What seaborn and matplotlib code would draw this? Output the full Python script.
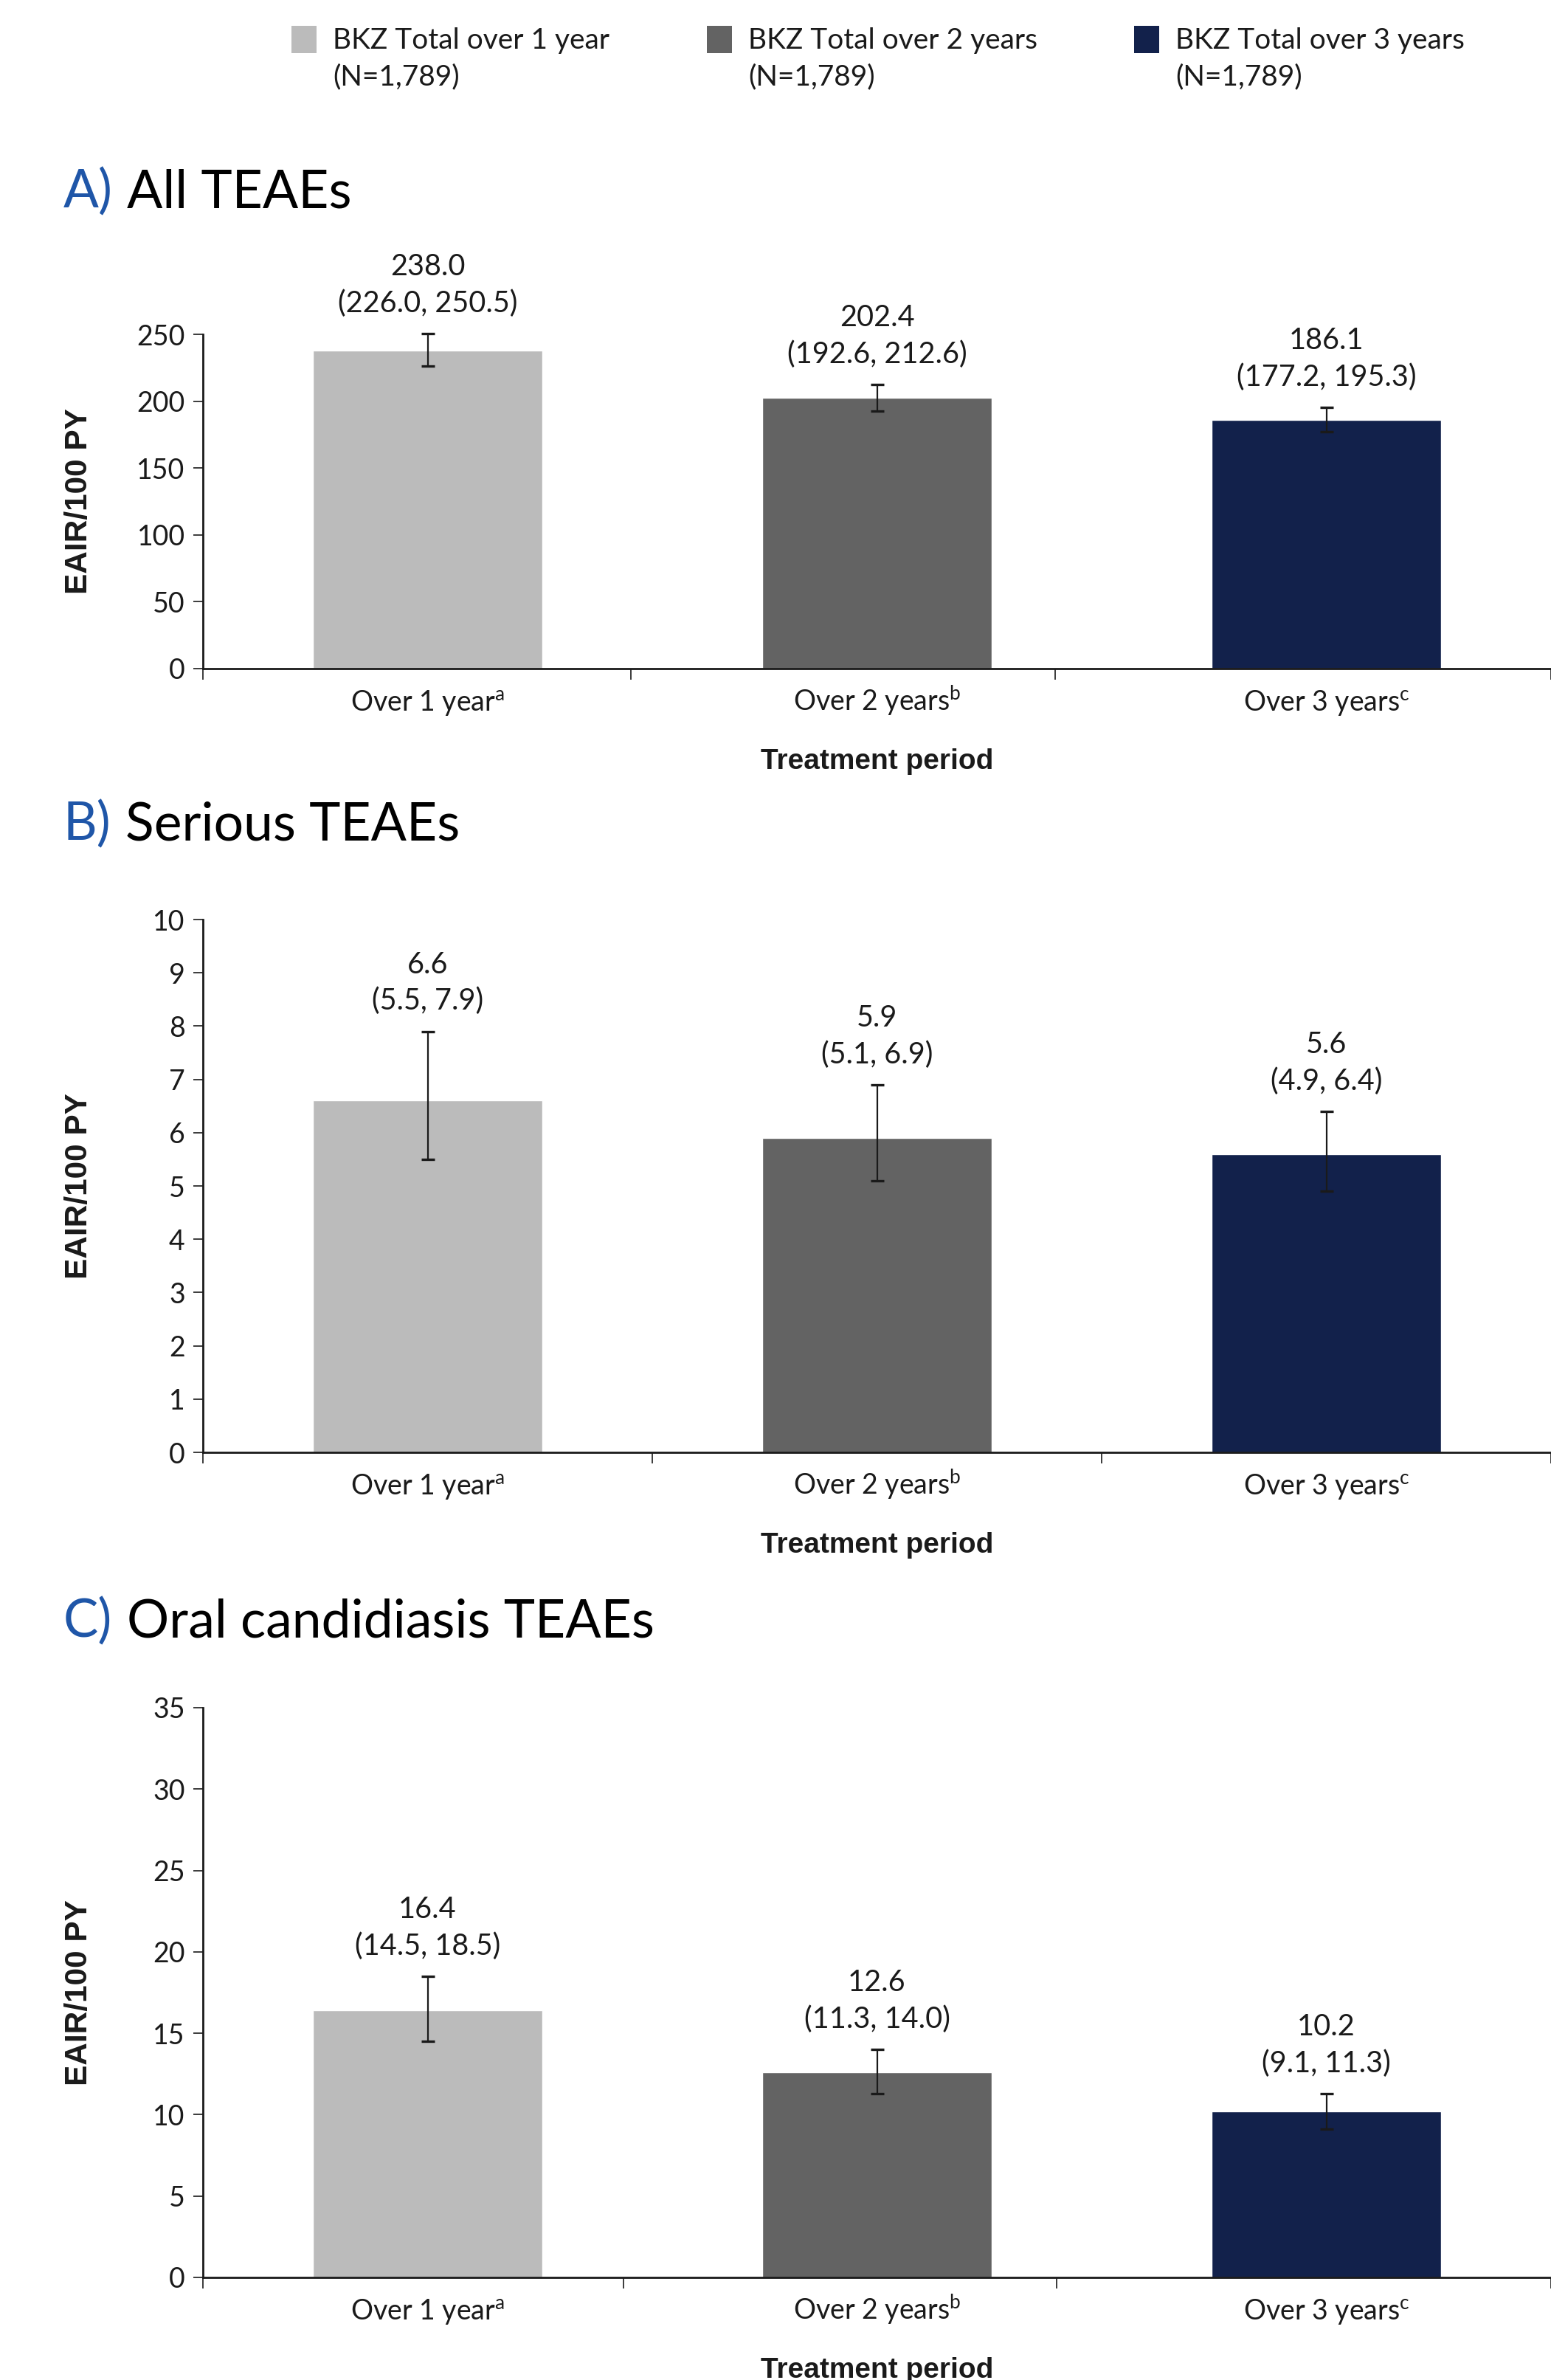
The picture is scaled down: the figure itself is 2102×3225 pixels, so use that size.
import numpy as np
import pandas as pd
import matplotlib.pyplot as plt
import seaborn as sns
from matplotlib.patches import Rectangle

sns.set_theme(style="white")
plt.rcParams['font.family'] = ['Lato', 'DejaVu Sans']
plt.rcParams['mathtext.fontset'] = 'custom'
plt.rcParams['mathtext.rm'] = 'Lato'
plt.rcParams['mathtext.it'] = 'Lato:italic'
plt.rcParams['text.color'] = '#1a1a1a'

# ---- data ----
periods = ["Over 1 year", "Over 2 years", "Over 3 years"]
period_marks = ["a", "b", "c"]
legend_labels = ["BKZ Total over 1 year", "BKZ Total over 2 years", "BKZ Total over 3 years"]
n_patients = ["1,789", "1,789", "1,789"]
bar_colors = ["#BBBBBB", "#636363", "#12214B"]

all_rate = [238.0, 202.4, 186.1]
all_low = [226.0, 192.6, 177.2]
all_high = [250.5, 212.6, 195.3]

serious_rate = [6.6, 5.9, 5.6]
serious_low = [5.5, 5.1, 4.9]
serious_high = [7.9, 6.9, 6.4]

oral_rate = [16.4, 12.6, 10.2]
oral_low = [14.5, 11.3, 9.1]
oral_high = [18.5, 14.0, 11.3]

W, H = 2102, 3225
fig = plt.figure(figsize=(W / 100, H / 100), dpi=100)

def fx(px):
    return px / W

def fy(py):
    return 1 - py / H

# panel config: letter, title, values, y max, y step, axes box (px), separator ticks, title y (px)
panels = [
    ("A)", "All TEAEs", all_rate, all_low, all_high, 250, 50, (453, 906), [-0.5, 0.453, 1.397, 2.5], 260),
    ("B)", "Serious TEAEs", serious_rate, serious_low, serious_high, 10, 1, (1246, 1968), [-0.5, 0.5, 1.5, 2.5], 1117),
    ("C)", "Oral candidiasis TEAEs", oral_rate, oral_low, oral_high, 35, 5, (2314, 3086), [-0.5, 0.436, 1.40, 2.5], 2197),
]

ax_left = 275
ink = '#1a1a1a'

for letter, title, rate, low, high, ymax, ystep, (top, bottom), seps, ty in panels:
    ax = fig.add_axes([fx(ax_left), fy(bottom), 1 - fx(ax_left), (bottom - top) / H])
    df = pd.DataFrame({'period': periods, 'rate': rate, 'low': low, 'high': high})
    sns.barplot(data=df, x='period', y='rate', hue='period', palette=bar_colors,
                width=0.51, saturation=1, errorbar=None, legend=False, ax=ax, zorder=2)
    rate_a = np.array(rate)
    yerr = [rate_a - np.array(low), np.array(high) - rate_a]
    ax.errorbar(np.arange(len(periods)), rate_a, yerr=yerr, fmt='none', ecolor=ink,
                elinewidth=1.6, capsize=6.5, capthick=2.4, zorder=3, clip_on=False)

    for i, (r, lo, hi) in enumerate(zip(rate, low, high)):
        ax.annotate(f"{r:.1f}\n({lo:.1f}, {hi:.1f})", xy=(i, hi), xytext=(0, 16),
                    textcoords='offset points', ha='center', va='bottom',
                    fontsize=28.5, linespacing=1.4, color=ink, annotation_clip=False)

    ax.set_xlim(-0.5, 2.5)
    ax.set_ylim(0, ymax)
    ax.set_yticks(np.arange(0, ymax + ystep / 2, ystep))
    ax.set_yticklabels([f"{v:g}" for v in np.arange(0, ymax + ystep / 2, ystep)])
    ax.set_xticks(range(len(periods)))
    ax.set_xticklabels([f"{p}$^{{\\rm {m}}}$" for p, m in zip(periods, period_marks)])
    ax.set_xticks(seps, minor=True)
    for lab in ax.get_xticklabels():
        lab.set_verticalalignment('baseline')

    for side in ['top', 'right']:
        ax.spines[side].set_visible(False)
    for side in ['left', 'bottom']:
        ax.spines[side].set_color(ink)
        ax.spines[side].set_linewidth(2.0)
    ax.tick_params(axis='y', which='major', direction='out', length=9.5, width=1.2,
                   color=ink, labelsize=27, labelcolor=ink, pad=8, left=True)
    ax.tick_params(axis='x', which='major', length=0, labelsize=27, labelcolor=ink, pad=41)
    ax.tick_params(axis='x', which='minor', direction='out', length=11, width=1.2,
                   color=ink, bottom=True)
    ax.grid(False)

    ax.set_xlabel("Treatment period", fontsize=28, fontweight='bold',
                  family='Liberation Sans', labelpad=30, color=ink)
    ax.set_ylabel("EAIR/100 PY", fontsize=30.5, fontweight='bold',
                  family='Liberation Sans', color=ink)
    ax.yaxis.set_label_coords(-0.081, 0.5)

    # panel heading: blue letter + black title
    t = fig.text(fx(86), fy(ty), letter, fontsize=51, color='#1F56A8', ha='left', va='center')
    ax.annotate(title, xy=(1, 0), xycoords=t, xytext=(14, 0), textcoords='offset points',
                fontsize=51.5, color='black', ha='left', va='bottom')

# legend along the top
leg_x = [395, 958, 1537]
for x0, lab, n, col in zip(leg_x, legend_labels, n_patients, bar_colors):
    fig.add_artist(Rectangle((fx(x0), fy(72)), 34 / W, 37 / H, transform=fig.transFigure,
                             facecolor=col, edgecolor='none'))
    fig.text(fx(x0 + 56), fy(80), f"{lab}\n(N={n})", fontsize=28, ha='left', va='center',
             linespacing=1.45, color=ink)

fig.savefig("out.png", dpi=100)
